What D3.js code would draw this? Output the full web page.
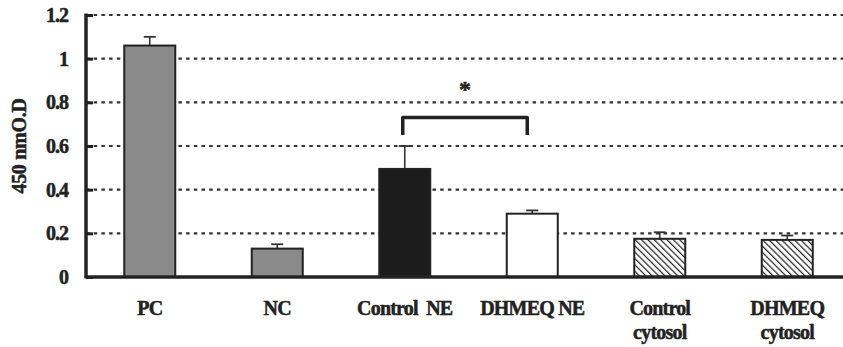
<!DOCTYPE html>
<html>
<head>
<meta charset="utf-8">
<script src="https://cdn.jsdelivr.net/npm/d3@7"></script>
<style>
  body { margin: 0; background: #fff; }
  text { font-family: "Liberation Serif", "Times New Roman", serif; font-weight: bold; fill: #222; stroke: #222; stroke-width: 0.5px; white-space: pre; }
</style>
</head>
<body>
<div id="chart"></div>
<script>
// data
var groups = ["PC", "NC", "Control NE", "DHMEQ NE", "Control cytosol", "DHMEQ cytosol"];
var labelLines = [["PC"], ["NC"], ["Control  NE"], ["DHMEQ NE"], ["Control", "cytosol"], ["DHMEQ", "cytosol"]];
var values = [1.06, 0.13, 0.495, 0.29, 0.175, 0.17];
var errors = [0.04, 0.02, 0.105, 0.015, 0.03, 0.02];
var fills = ["gray", "gray", "dark", "white", "hatch", "hatch"];
var yTicks = [0, 0.2, 0.4, 0.6, 0.8, 1, 1.2];

var width = 843, height = 347;
var margin = {top: 15, right: 0, bottom: 70, left: 86};

var svg = d3.select("#chart")
  .append("svg")
  .attr("width", width)
  .attr("height", height);

var defs = svg.append("defs");
var pat = defs.append("pattern")
  .attr("id", "hatch")
  .attr("patternUnits", "userSpaceOnUse")
  .attr("width", 4.5)
  .attr("height", 4.5)
  .attr("patternTransform", "rotate(-45)");
pat.append("rect").attr("width", 4.5).attr("height", 4.5).attr("fill", "#fff");
pat.append("line")
  .attr("x1", 0).attr("y1", 0).attr("x2", 0).attr("y2", 4.5)
  .attr("stroke", "#222").attr("stroke-width", 2.4);

var x = d3.scaleBand()
  .domain(groups)
  .range([margin.left, margin.left + 6 * 127.5])
  .paddingInner(0.6)
  .paddingOuter(0.3);

var y = d3.scaleLinear()
  .domain([0, 1.2])
  .range([height - margin.bottom, margin.top]);

// dotted grid lines
svg.append("g")
  .selectAll("line")
  .data(yTicks.filter(d => d > 0))
  .join("line")
  .attr("x1", margin.left)
  .attr("x2", width)
  .attr("y1", d => y(d))
  .attr("y2", d => y(d))
  .attr("stroke", "#333")
  .attr("stroke-width", 2.2)
  .attr("stroke-dasharray", "3.5,4.2");

var fillColor = function(f) {
  if (f == "gray") return "#8a8a8a";
  if (f == "dark") return "#1c1c1c";
  if (f == "white") return "#fff";
  return "url(#hatch)";
};

// error bars
var eb = svg.append("g");
eb.selectAll("line.v")
  .data(groups)
  .join("line")
  .attr("class", "v")
  .attr("x1", d => x(d) + x.bandwidth() / 2)
  .attr("x2", d => x(d) + x.bandwidth() / 2)
  .attr("y1", (d, i) => y(values[i]))
  .attr("y2", (d, i) => y(values[i] + errors[i]))
  .attr("stroke", "#333")
  .attr("stroke-width", 1.6);
eb.selectAll("line.h")
  .data(groups)
  .join("line")
  .attr("class", "h")
  .attr("x1", d => x(d) + x.bandwidth() / 2 - 6)
  .attr("x2", d => x(d) + x.bandwidth() / 2 + 6)
  .attr("y1", (d, i) => y(values[i] + errors[i]))
  .attr("y2", (d, i) => y(values[i] + errors[i]))
  .attr("stroke", "#333")
  .attr("stroke-width", 1.8);

// bars
svg.append("g")
  .selectAll("rect")
  .data(groups)
  .join("rect")
  .attr("x", d => x(d))
  .attr("y", (d, i) => y(values[i]))
  .attr("width", x.bandwidth())
  .attr("height", (d, i) => y(0) - y(values[i]))
  .attr("fill", (d, i) => fillColor(fills[i]))
  .attr("stroke", "#222")
  .attr("stroke-width", 2);

// y axis
var yAxis = svg.append("g")
  .attr("transform", "translate(" + margin.left + ",0)")
  .call(d3.axisRight(y).tickValues(yTicks).tickSize(7).tickFormat(d3.format("")));
yAxis.select(".domain").remove();
yAxis.selectAll(".tick line").attr("stroke", "#222").attr("stroke-width", 3);
yAxis.selectAll(".tick text")
  .attr("x", -18)
  .attr("text-anchor", "end")
  .style("font-size", "20px")
  .style("font-family", "'Liberation Serif', serif")
  .style("font-weight", "bold")
  .style("letter-spacing", "-1px")
  .attr("fill", "#222");

svg.append("line")
  .attr("x1", margin.left).attr("x2", margin.left)
  .attr("y1", y(1.2) - 1.5).attr("y2", y(0) + 1.5)
  .attr("stroke", "#222").attr("stroke-width", 3.5);
svg.append("line")
  .attr("x1", margin.left).attr("x2", width)
  .attr("y1", y(0)).attr("y2", y(0))
  .attr("stroke", "#222").attr("stroke-width", 3.5);

// y title
svg.append("text")
  .attr("transform", "translate(26," + ((y(0) + y(1.2)) / 2) + ") rotate(-90)")
  .attr("text-anchor", "middle")
  .style("font-size", "20px")
  .style("letter-spacing", "-0.3px")
  .text("450 nmO.D");

// x labels
var lab = svg.append("g")
  .selectAll("text")
  .data(groups)
  .join("text")
  .attr("x", d => x(d) + x.bandwidth() / 2)
  .attr("y", 315)
  .attr("text-anchor", "middle")
  .style("font-size", "20px")
  .style("letter-spacing", "-0.8px");
lab.each(function(d, i) {
  var t = d3.select(this);
  var lines = labelLines[i];
  lines.forEach(function(s, j) {
    t.append("tspan")
      .attr("x", x(d) + x.bandwidth() / 2)
      .attr("dy", j == 0 ? 0 : 24)
      .text(s);
  });
});

// significance bracket
var c1 = x("Control NE") + x.bandwidth() / 2 - 2;
var c2 = x("DHMEQ NE") + x.bandwidth() / 2 - 5;
var by = y(0.73);
svg.append("path")
  .attr("d", "M" + c1 + "," + y(0.65) + "V" + by + "H" + c2 + "V" + y(0.65))
  .attr("fill", "none")
  .attr("stroke", "#222")
  .attr("stroke-width", 3.5)
  .attr("stroke-linejoin", "round");
svg.append("text")
  .attr("x", (c1 + c2) / 2)
  .attr("y", y(0.8) - 5)
  .attr("text-anchor", "middle")
  .style("font-size", "24px")
  .text("*");
</script>
</body>
</html>
